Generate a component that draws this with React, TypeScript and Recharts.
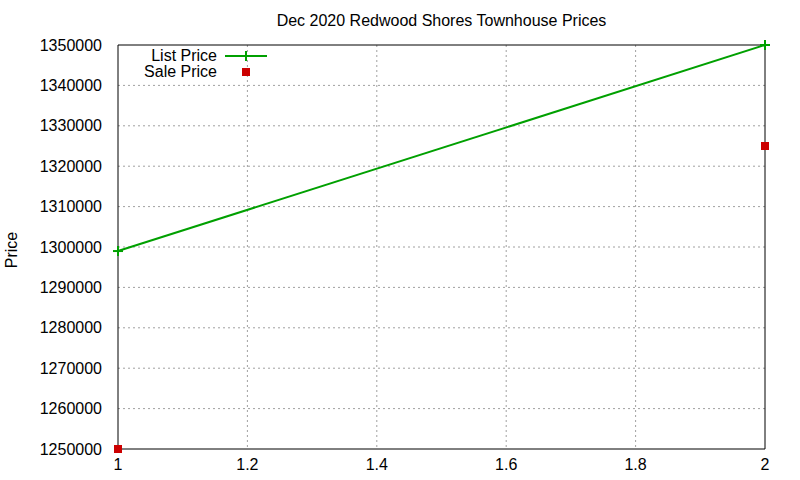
import React from "react";
import {
  ComposedChart,
  Line,
  Scatter,
  XAxis,
  YAxis,
  CartesianGrid,
  ReferenceArea,
} from "recharts";

const xs = [1, 2];
const listPrices = [1299000, 1350000];
const salePrices = [1250000, 1325000];
const xTicks = [1, 1.2, 1.4, 1.6, 1.8, 2];
const yTicks = [1250000, 1260000, 1270000, 1280000, 1290000, 1300000, 1310000, 1320000, 1330000, 1340000, 1350000];

const listData = xs.map((x, i) => ({ x, y: listPrices[i] }));
const saleData = xs.map((x, i) => ({ x, y: salePrices[i] }));

const GREEN = "#00a000";
const RED = "#cc0000";
const FONT = "'Liberation Sans', Arial, sans-serif";
const X_DOMAIN = [1, 2];
const Y_DOMAIN = [1250000, 1350000];

const Plus = (props: any) => {
  const { cx, cy } = props;
  if (cx == null || cy == null) return null;
  return (
    <g>
      <line x1={cx - 5} x2={cx + 5} y1={cy} y2={cy} stroke={GREEN} strokeWidth={2} />
      <line x1={cx} x2={cx} y1={cy - 5} y2={cy + 5} stroke={GREEN} strokeWidth={2} />
    </g>
  );
};

const Square = (props: any) => {
  const { cx, cy } = props;
  if (cx == null || cy == null) return null;
  return <rect x={cx - 4} y={cy - 4} width={8} height={8} fill={RED} />;
};

export default function App() {
  return (
    <div style={{ position: "absolute", left: 0, top: 0, width: 800, height: 480, background: "#fff", fontFamily: FONT }}>
      <ComposedChart
        width={800}
        height={480}
        margin={{ top: 45, right: 35, bottom: 0, left: 0 }}
      >
        <CartesianGrid
          stroke="#a0a0a0"
          strokeDasharray="2 3"
          verticalValues={xTicks.slice(1, -1)}
          horizontalValues={yTicks.slice(1, -1)}
        />
        <XAxis
          dataKey="x"
          type="number"
          domain={X_DOMAIN}
          ticks={xTicks}
          height={31}
          axisLine={false}
          tickLine={false}
          tick={{ fill: "#000", fontSize: 16, fontFamily: FONT }}
          tickMargin={4}
        />
        <XAxis
          xAxisId="bottomMarks"
          type="number"
          domain={X_DOMAIN}
          ticks={xTicks}
          orientation="bottom"
          mirror
          height={0}
          axisLine={false}
          tick={false}
          tickLine={{ stroke: "#000" }}
          tickSize={6}
        />
        <XAxis
          xAxisId="topMarks"
          type="number"
          domain={X_DOMAIN}
          ticks={xTicks}
          orientation="top"
          mirror
          height={0}
          axisLine={false}
          tick={false}
          tickLine={{ stroke: "#000" }}
          tickSize={6}
        />
        <YAxis
          dataKey="y"
          type="number"
          domain={Y_DOMAIN}
          ticks={yTicks}
          width={118}
          axisLine={false}
          tickLine={false}
          tick={{ fill: "#000", fontSize: 16, fontFamily: FONT }}
          tickMargin={10}
        />
        <YAxis
          yAxisId="leftMarks"
          type="number"
          domain={Y_DOMAIN}
          ticks={yTicks}
          orientation="left"
          mirror
          width={0}
          axisLine={false}
          tick={false}
          tickLine={{ stroke: "#000" }}
          tickSize={6}
        />
        <YAxis
          yAxisId="rightMarks"
          type="number"
          domain={Y_DOMAIN}
          ticks={yTicks}
          orientation="right"
          mirror
          width={0}
          axisLine={false}
          tick={false}
          tickLine={{ stroke: "#000" }}
          tickSize={6}
        />
        <ReferenceArea x1={1} x2={2} y1={1250000} y2={1350000} fill="none" stroke="#000" strokeWidth={1} ifOverflow="visible" />
        <Line
          data={listData}
          dataKey="y"
          stroke={GREEN}
          strokeWidth={2}
          dot={<Plus />}
          activeDot={false}
          isAnimationActive={false}
        />
        <Scatter data={saleData} dataKey="y" shape={<Square />} isAnimationActive={false} />
      </ComposedChart>
      <div style={{ position: "absolute", left: 118, width: 647, top: 12, textAlign: "center", fontSize: 16 }}>
        Dec 2020 Redwood Shores Townhouse Prices
      </div>
      <div style={{ position: "absolute", left: 12, top: 250, transform: "translate(-50%, -50%) rotate(-90deg)", fontSize: 16 }}>
        Price
      </div>
      <div style={{ position: "absolute", left: 100, width: 117, top: 48, textAlign: "right", fontSize: 16, lineHeight: "16px" }}>
        List Price
      </div>
      <div style={{ position: "absolute", left: 100, width: 117, top: 64, textAlign: "right", fontSize: 16, lineHeight: "16px" }}>
        Sale Price
      </div>
      <svg style={{ position: "absolute", left: 0, top: 0 }} width={800} height={480}>
        <line x1={225} x2={267} y1={56} y2={56} stroke={GREEN} strokeWidth={2} />
        <line x1={246} x2={246} y1={51} y2={61} stroke={GREEN} strokeWidth={2} />
        <rect x={242} y={68} width={8} height={8} fill={RED} />
      </svg>
    </div>
  );
}
